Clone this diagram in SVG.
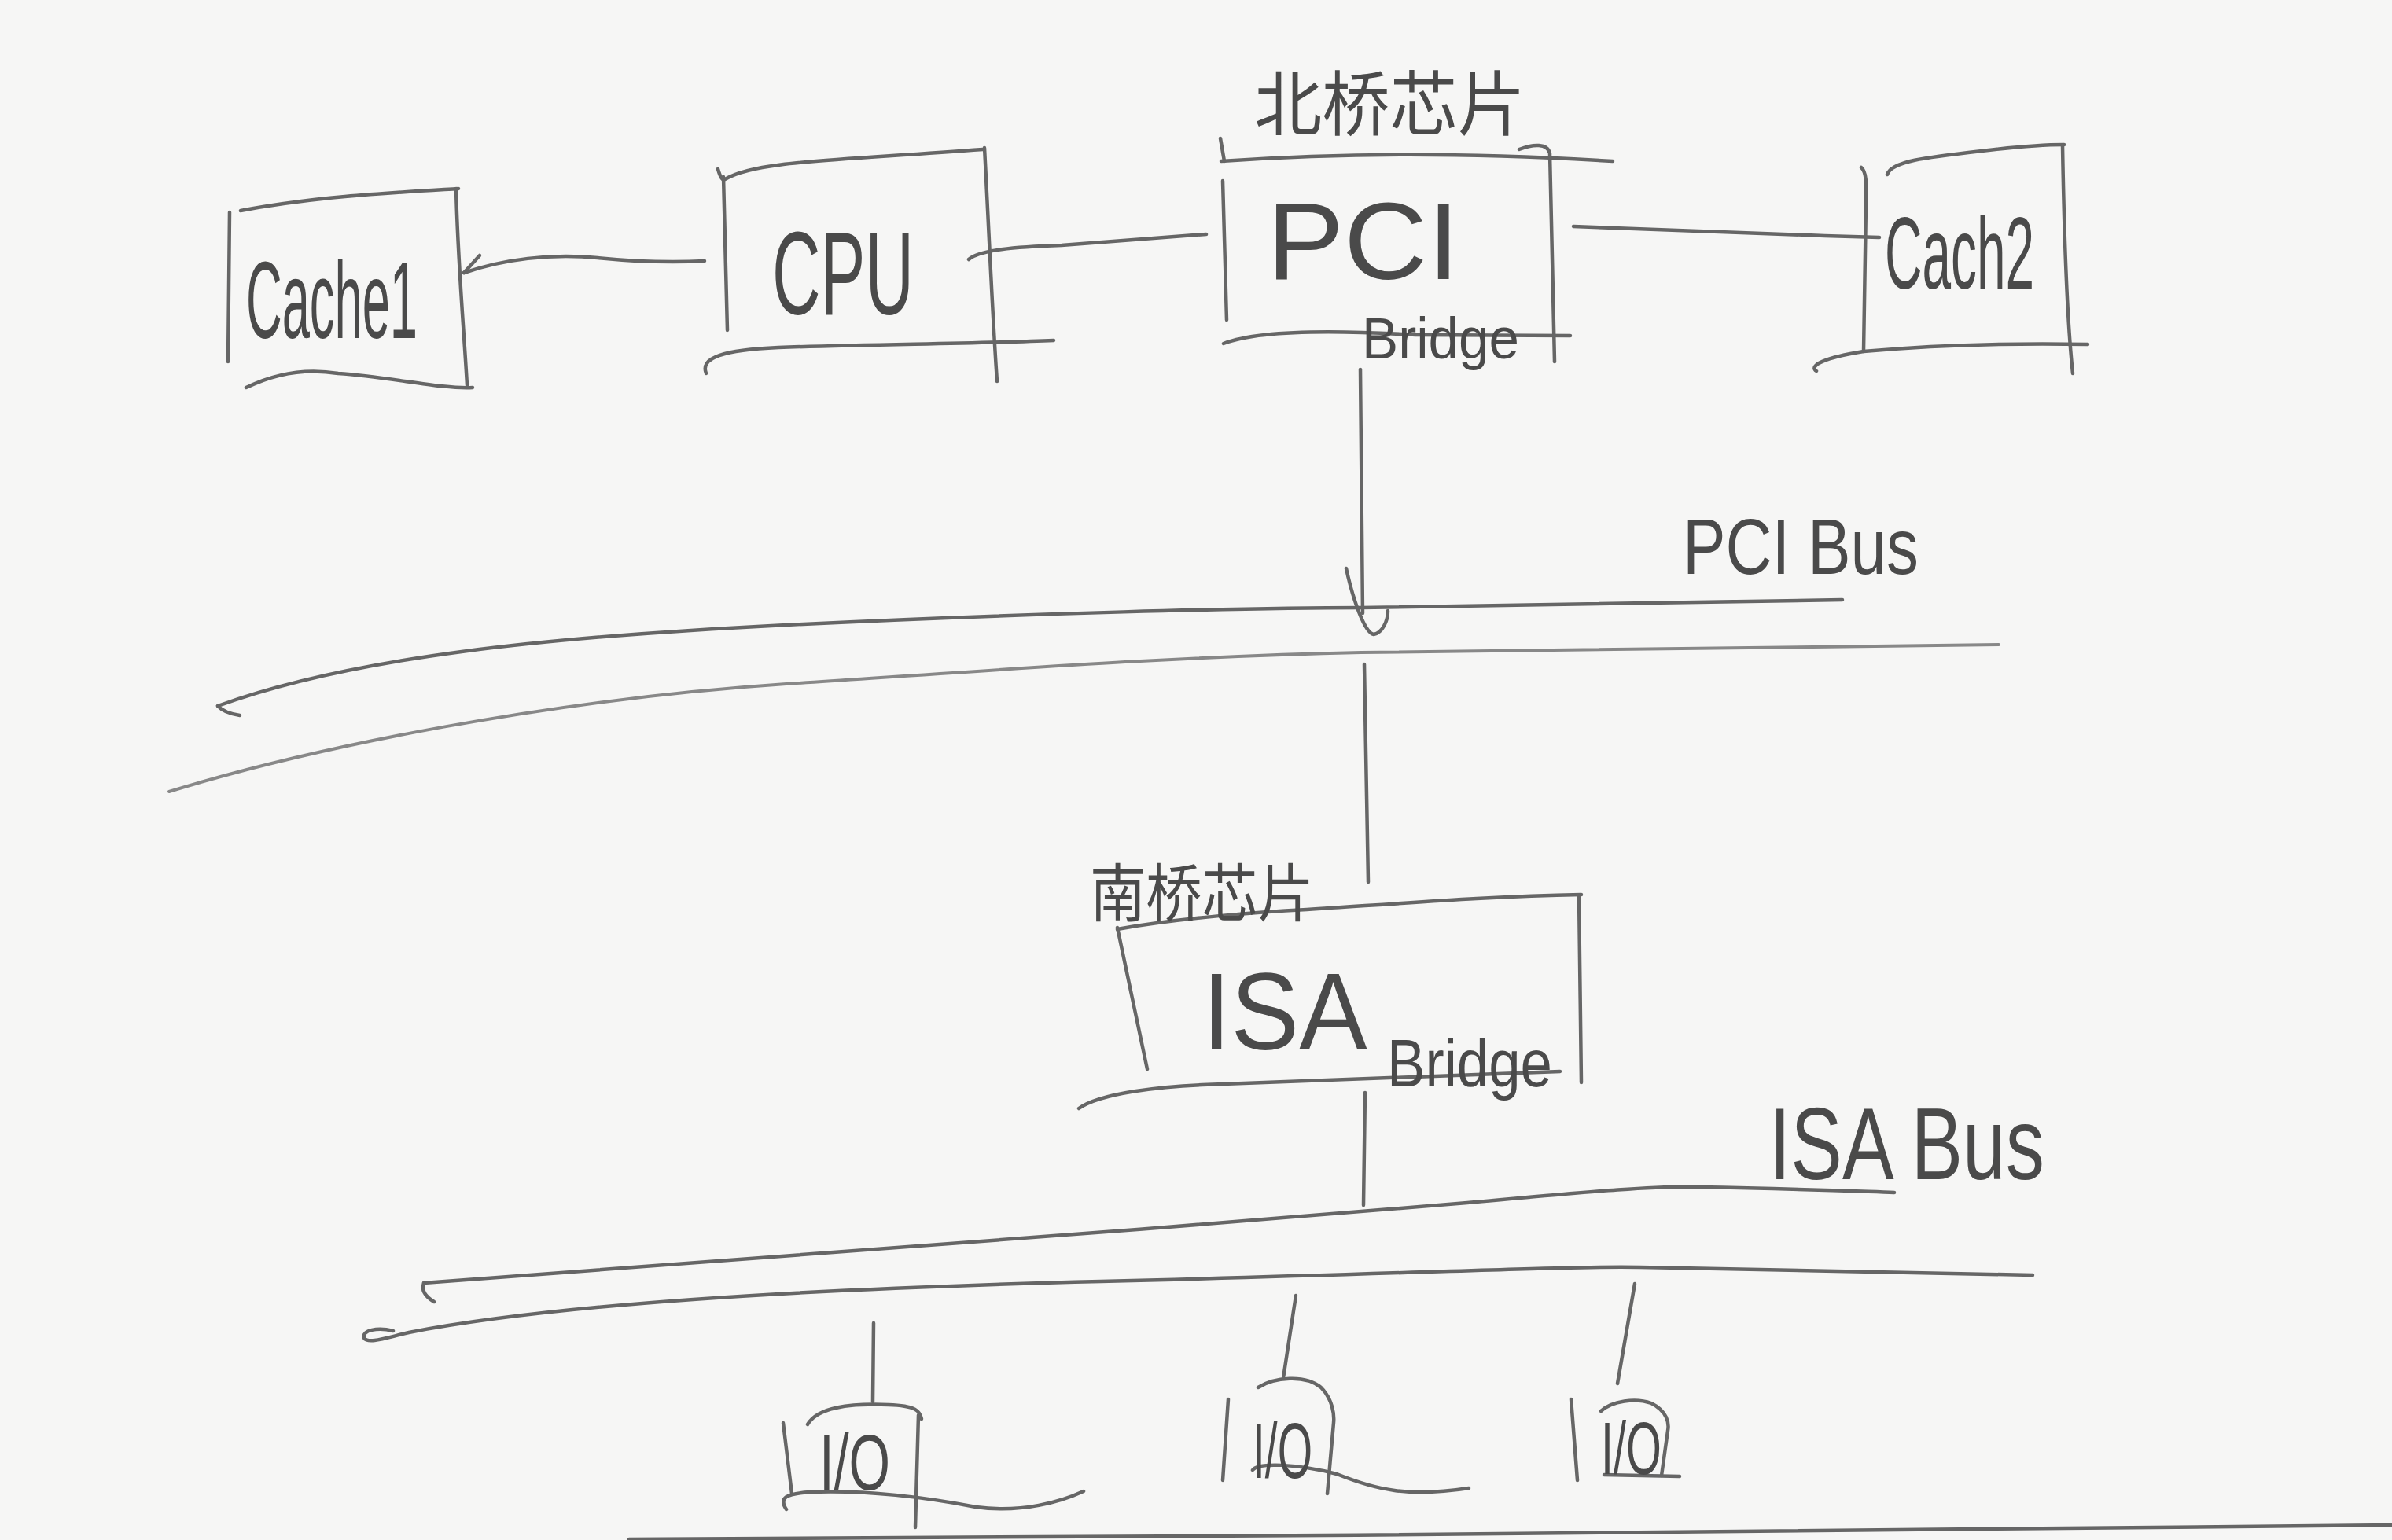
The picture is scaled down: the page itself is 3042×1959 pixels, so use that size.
<svg xmlns="http://www.w3.org/2000/svg" width="3042" height="1959" viewBox="0 0 3042 1959">
<style>
.s{fill:none;stroke:#666;stroke-width:4.5;stroke-linecap:round;stroke-linejoin:round}
.f{fill:none;stroke:#888;stroke-width:4;stroke-linecap:round}
.t{fill:#4a4a4a;font-family:"Liberation Sans","Noto Sans CJK SC",sans-serif}
</style>
<rect x="0" y="0" width="3042" height="1959" fill="#f6f6f5"/>

<g id="cache1">
<path class="s" d="M306,268 C400,250 500,245 583,240"/>
<path class="s" d="M580,240 C582,330 590,420 594,490"/>
<path class="s" d="M292,270 L290,460"/>
<path class="s" d="M313,493 C360,470 400,470 430,475 C500,480 560,495 601,493"/>
<text class="t" x="313" y="430" font-size="140" textLength="218" lengthAdjust="spacingAndGlyphs">Cache1</text>
</g>

<g id="cpu">
<path class="s" d="M913,215 Q918,232 922,228 C960,205 1050,205 1250,190"/>
<path class="s" d="M920,225 L925,420"/>
<path class="s" d="M1252,188 C1258,300 1262,400 1268,485"/>
<path class="s" d="M898,475 C890,455 920,445 990,442 C1100,438 1250,437 1340,433"/>
<text class="t" x="982" y="400" font-size="150" textLength="180" lengthAdjust="spacingAndGlyphs">CPU</text>
</g>

<g id="north-bridge">
<path class="s" d="M1552,176 L1557,205"/>
<path class="s" d="M1553,205 C1700,195 1850,193 2051,205"/>
<path class="s" d="M1555,230 L1560,407"/>
<path class="s" d="M1932,190 C1950,183 1968,182 1971,195 L1977,460"/>
<path class="s" d="M1556,437 C1600,420 1700,420 1800,426 L1997,427"/>
<text class="t" x="1595" y="165" font-size="90" textLength="345" lengthAdjust="spacingAndGlyphs">北桥芯片</text>
<text class="t" x="1611" y="355" font-size="140" textLength="245" lengthAdjust="spacingAndGlyphs">PCI</text>
<text class="t" x="1732" y="456" font-size="75" textLength="200" lengthAdjust="spacingAndGlyphs">Bridge</text>
</g>

<g id="cache2">
<path class="s" d="M2367,213 C2375,220 2373,240 2373,260 L2370,447"/>
<path class="s" d="M2400,222 C2405,205 2450,200 2520,192 C2570,186 2600,184 2625,184"/>
<path class="s" d="M2623,185 C2625,300 2628,400 2636,475"/>
<path class="s" d="M2310,472 C2300,465 2320,455 2370,447 C2450,440 2550,436 2655,438"/>
<text class="t" x="2397" y="367" font-size="130" textLength="190" lengthAdjust="spacingAndGlyphs">Cach2</text>
</g>

<g id="pci-bus">
<path class="s" d="M277,898 C450,835 700,810 1000,795 S1600,773 1731,773 L2343,763"/>
<path class="s" d="M277,898 Q285,907 305,910"/>
<path class="f" d="M215,1007 C400,950 700,890 1000,870 C1300,850 1500,835 1731,830 L2542,820"/>
<text class="t" x="2140" y="730" font-size="100" textLength="300" lengthAdjust="spacingAndGlyphs">PCI Bus</text>
</g>

<g id="south-bridge">
<path class="s" d="M1421,1182 C1500,1168 1600,1160 1662,1157 C1800,1148 1900,1140 2011,1138"/>
<path class="s" d="M1421,1180 L1459,1360"/>
<path class="s" d="M2008,1140 L2011,1377"/>
<path class="s" d="M1372,1410 C1400,1390 1480,1382 1529,1380 L1984,1363"/>
<text class="t" x="1386" y="1165" font-size="80" textLength="285" lengthAdjust="spacingAndGlyphs">南桥芯片</text>
<text class="t" x="1529" y="1335" font-size="140" textLength="210" lengthAdjust="spacingAndGlyphs">ISA</text>
<text class="t" x="1764" y="1382" font-size="85" textLength="210" lengthAdjust="spacingAndGlyphs">Bridge</text>
</g>

<g id="isa-bus">
<path class="s" d="M539,1632 C800,1612 1400,1570 1866,1530 C2000,1518 2100,1508 2160,1510 C2280,1512 2350,1515 2409,1517"/>
<path class="s" d="M539,1632 Q534,1645 552,1656"/>
<path class="s" d="M500,1693 C480,1688 460,1692 463,1702 C468,1710 490,1702 520,1695 C700,1660 1000,1640 1400,1630 C1800,1620 2000,1610 2086,1612 C2300,1615 2450,1620 2585,1622"/>
<text class="t" x="2250" y="1500" font-size="130" textLength="350" lengthAdjust="spacingAndGlyphs">ISA Bus</text>
</g>

<g id="io1">
<path class="s" d="M996,1810 L1007,1900"/>
<path class="s" d="M1027,1812 C1040,1790 1080,1785 1130,1787 C1165,1788 1170,1795 1172,1805"/>
<path class="s" d="M1168,1800 L1164,1943"/>
<path class="s" d="M1000,1920 C990,1905 1000,1900 1030,1898 C1100,1895 1180,1905 1241,1917 C1300,1925 1350,1910 1378,1897"/>
<text class="t" x="1042" y="1895" font-size="100" textLength="90" lengthAdjust="spacingAndGlyphs">I/O</text>
</g>

<g id="io2">
<path class="s" d="M1562,1780 L1555,1883"/>
<path class="s" d="M1600,1765 C1620,1752 1660,1748 1680,1765 C1695,1780 1697,1800 1696,1810 L1688,1900"/>
<path class="s" d="M1593,1870 C1600,1860 1650,1862 1700,1875 C1750,1895 1790,1905 1868,1893"/>
<text class="t" x="1593" y="1880" font-size="100" textLength="76" lengthAdjust="spacingAndGlyphs">I/O</text>
</g>

<g id="io3">
<path class="s" d="M1998,1780 L2006,1883"/>
<path class="s" d="M2036,1795 C2050,1782 2080,1778 2100,1785 C2120,1795 2123,1810 2121,1820 L2113,1877"/>
<path class="s" d="M2040,1876 L2136,1878"/>
<text class="t" x="2036" y="1875" font-size="95" textLength="77" lengthAdjust="spacingAndGlyphs">I/O</text>
</g>

<g id="connectors">
<path class="s" d="M590,347 C640,330 700,322 760,328 C820,334 860,334 896,332"/>
<path class="s" d="M590,347 L610,325"/>
<path class="s" d="M1232,330 C1245,318 1290,314 1350,312 L1534,298"/>
<path class="s" d="M2001,288 C2100,292 2250,298 2390,302"/>
<path class="s" d="M1730,470 L1733,780"/>
<path class="s" d="M1712,723 C1720,760 1735,805 1747,807 C1758,805 1765,790 1765,777"/>
<path class="s" d="M1735,845 L1740,1122"/>
<path class="s" d="M1736,1390 L1734,1533"/>
<path class="s" d="M1111,1683 L1110,1783"/>
<path class="s" d="M1648,1648 L1632,1753"/>
<path class="s" d="M2079,1633 L2057,1760"/>
</g>

<path class="s" d="M800,1958 C1500,1955 2500,1948 3042,1940"/>
</svg>
